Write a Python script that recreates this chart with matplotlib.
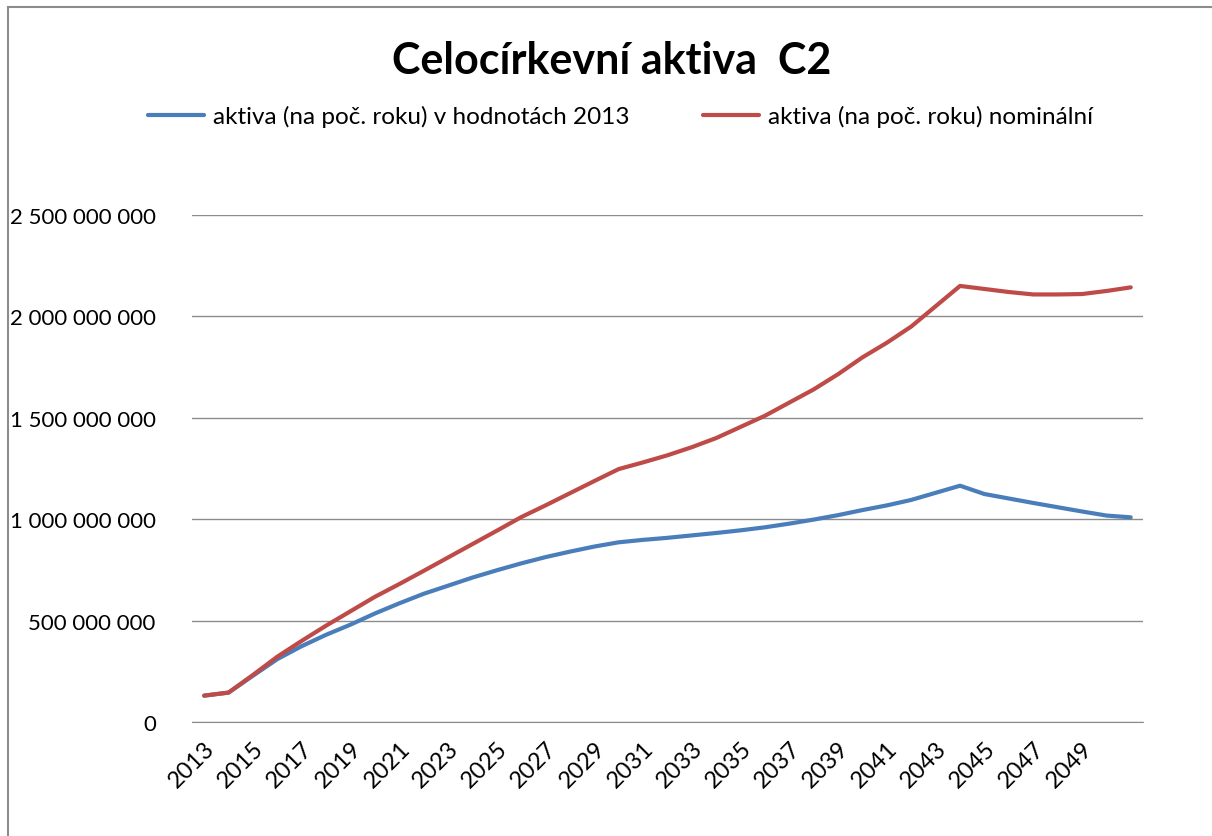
import numpy as np
import matplotlib.pyplot as plt
from matplotlib.patches import Rectangle
from matplotlib.ticker import FuncFormatter

plt.rcParams['font.family'] = ['Lato', 'DejaVu Sans']

# data (mil. Kč -> Kč below)
years = list(range(2013, 2052))
aktiva_2013 = [130, 145, 228, 310, 374, 430, 480, 535, 585, 632,
               672, 712, 748, 782, 813, 840, 865, 886, 898, 908,
               920, 932, 945, 960, 978, 998, 1020, 1045, 1068, 1095,
               1130, 1165, 1124, 1102, 1080, 1059, 1038, 1018, 1009]
aktiva_nominal = [130, 145, 232, 322, 400, 475, 546, 617, 680, 745,
                  811, 877, 943, 1010, 1068, 1128, 1188, 1247, 1280, 1315,
                  1355, 1400, 1455, 1510, 1575, 1640, 1715, 1798, 1870, 1950,
                  2050, 2150, 2135, 2120, 2108, 2108, 2110, 2125, 2143]
label_2013 = "aktiva (na poč. roku) v hodnotách 2013"
label_nom = "aktiva (na poč. roku) nominální"

fig = plt.figure(figsize=(12.12, 8.37), dpi=100)
ax = fig.add_axes([0.1584, 0.1362, 0.7846, 0.6058])

x = np.arange(len(years))
ax.plot(x, np.array(aktiva_2013) * 1e6, color="#4A7EBB", lw=3, label=label_2013,
        solid_joinstyle="round", solid_capstyle="round")
ax.plot(x, np.array(aktiva_nominal) * 1e6, color="#BE4B48", lw=3, label=label_nom,
        solid_joinstyle="round", solid_capstyle="round")

ax.set_xlim(-0.5, len(years) - 0.5)
ax.set_ylim(0, 2.5e9)
ax.set_yticks(np.arange(0, 2.5e9 + 1, 5e8))
ax.yaxis.set_major_formatter(FuncFormatter(lambda v, p: f"{int(v):,}".replace(",", " ")))
ax.set_xticks(x[::2][:-1])
ax.set_xticklabels([str(y) for y in years[::2][:-1]], rotation=45, ha="right",
                   rotation_mode="anchor")
ax.tick_params(axis="both", length=0, labelsize=16, colors="black")
ax.tick_params(axis="x", labelsize=17, pad=11)
ax.tick_params(axis="y", pad=26)
ax.grid(axis="y", color="#8c8c8c", lw=1)
ax.set_axisbelow(True)
for s in ax.spines.values():
    s.set_visible(False)
ax.spines["bottom"].set_visible(True)
ax.spines["bottom"].set_color("#8c8c8c")

fig.text(0.505, 0.927, "Celocírkevní aktiva  C2", ha="center", va="center",
         fontsize=31, fontweight="bold")
fig.legend(loc="center", bbox_to_anchor=(0.512, 0.86), ncol=2, frameon=False,
           fontsize=17.5, handlelength=2.3, columnspacing=3.0, handletextpad=0.4)

# chart frame
fig.patches.append(Rectangle((0.0066, -0.1), 1.2, 1.0904, transform=fig.transFigure,
                             fill=False, edgecolor="#8c8c8c", lw=1.5))

fig.savefig("out.png", dpi=100)
